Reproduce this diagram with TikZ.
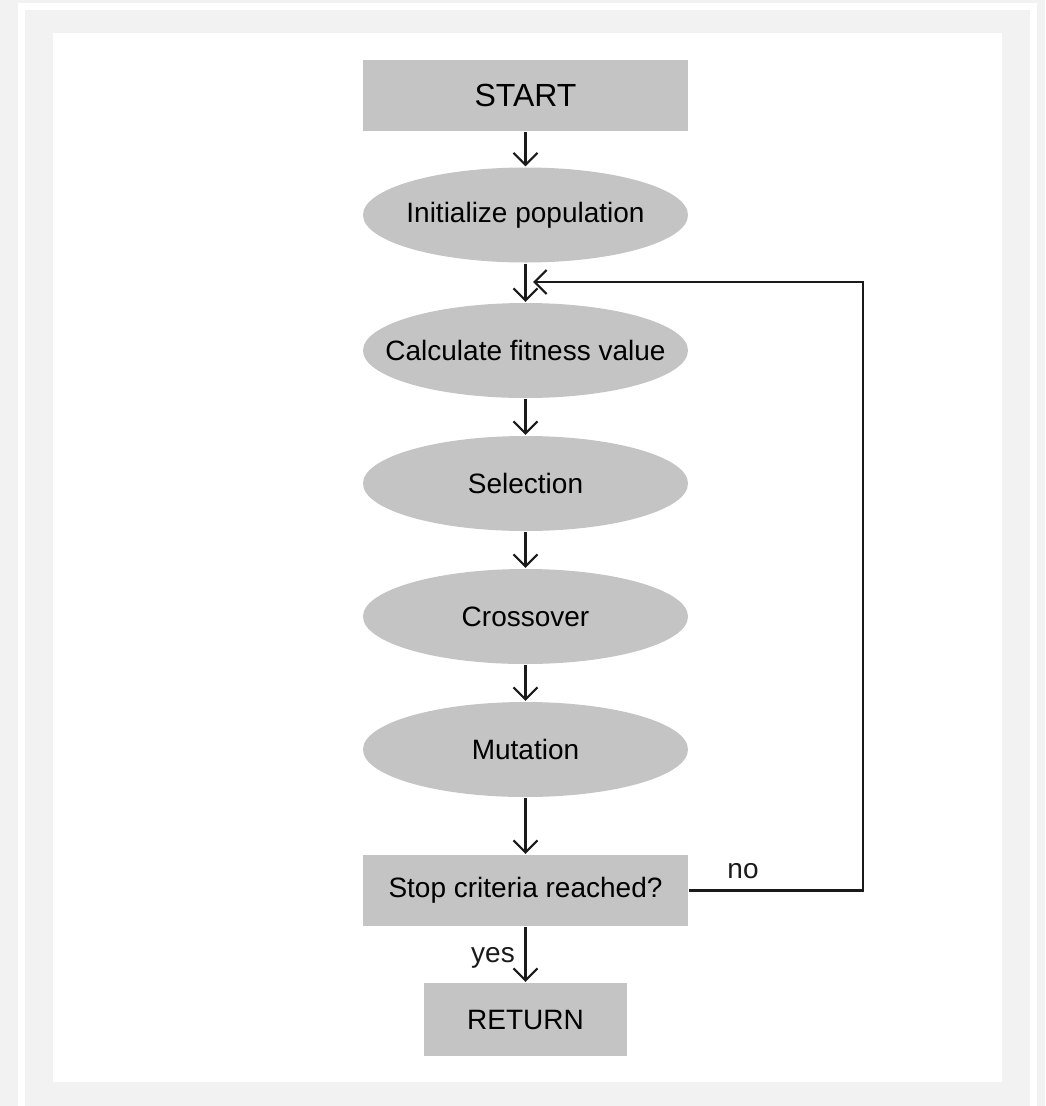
\documentclass[tikz,border=0pt]{standalone}
\usepackage{fontspec}
\setmainfont{Liberation Sans}
\usepackage{tikz}
\usetikzlibrary{shapes.geometric}
\usetikzlibrary{positioning}
\usetikzlibrary{arrows.meta}
\definecolor{boxgray}{HTML}{C4C4C4}
\definecolor{bggray}{HTML}{F2F2F2}
\definecolor{ink}{HTML}{1A1A1A}
\newcommand{\flowfont}{\fontsize{28}{34}\selectfont}
\tikzset{every picture/.style={line width=2.2pt},
  stagebox/.style={rectangle,fill=boxgray,minimum width=325pt,minimum height=71pt,inner sep=0pt,font=\flowfont},
  stageoval/.style={ellipse,fill=boxgray,minimum width=325pt,minimum height=95pt,inner sep=0pt,font=\flowfont},
  flow/.style={draw=ink,-{Straight Barb[length=12pt,width=24pt]}},
  tag/.style={anchor=base,font=\flowfont,text=ink}}

\begin{document}
\begin{tikzpicture}[x=1pt,y=1pt]
%[scale=0.7, every node/.style={scale=0.7}]
\useasboundingbox (0,0) rectangle (1045,-1106);
\fill[bggray] (0,0) rectangle (1045,-1106);
\draw[white,line width=7pt] (21.5,-1106) |- (1033.5,-6.5) -- (1033.5,-1106);
\fill[white] (53,-33) rectangle (1002,-1082);

\node (start) at (525.5,-95.5) [stagebox,minimum height=71pt,font=\fontsize{32}{38}\selectfont] {START};
\node (init) [below of=start, node distance=119.5pt, stageoval] {\makebox[0pt]{Initialize population}};
\node (calc) [below of=init, node distance=135.5pt, stageoval] {\makebox[0pt]{Calculate fitness value}};
\node (sel) [below of=calc, node distance=133pt, stageoval] {\makebox[0pt]{Selection}};
\node (cross) [below of=sel, node distance=133pt, stageoval] {\makebox[0pt]{Crossover}};
\node (mut) [below of=cross, node distance=133pt, stageoval] {\makebox[0pt]{Mutation}};
\node (stop) [below of=mut, node distance=141pt, stagebox] {Stop criteria reached?};
\node (ret) [below of=stop, node distance=129pt, stagebox, minimum width=203pt, minimum height=73pt] {RETURN};
\coordinate (loopin) at (533,-282);
\node (no) at (743,-878) [tag] {no};
\node (yes) at (493,-962) [tag] {yes};

\draw[flow] (start) -- (init);
\draw[flow] (init) -- (calc);
\draw[flow] (calc) -- (sel);
\draw[flow] (sel) -- (cross);
\draw[flow] (cross) -- (mut);
\draw[flow] (mut) -- (stop);
\draw[flow] (stop) -- (ret);
\draw[flow] (stop.east) -- +(174pt,0pt) |- (loopin);

\end{tikzpicture}
\end{document}
